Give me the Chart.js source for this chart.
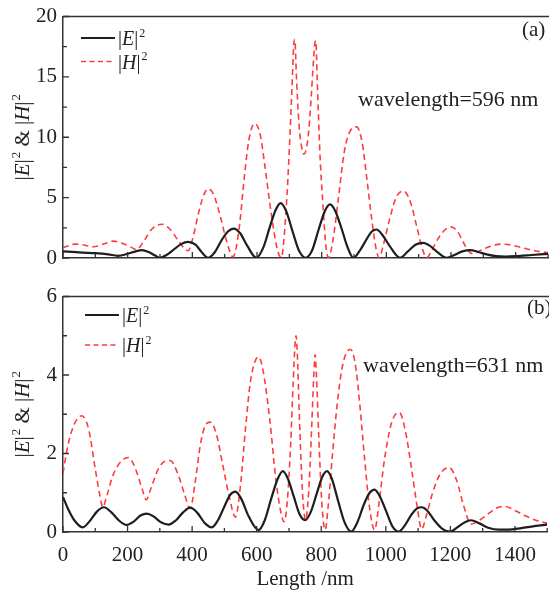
<!DOCTYPE html>
<html>
<head>
<meta charset="utf-8">
<script src="https://cdn.jsdelivr.net/npm/chart.js@4.4.1/dist/chart.umd.min.js"></script>
<style>
  html, body { margin: 0; padding: 0; background: #fff; }
  #wrap { position: relative; width: 549px; height: 591px; overflow: hidden; }
  #chartA { position: absolute; left: 0; top: 0; }
  #chartB { position: absolute; left: 0; top: 280px; }
</style>
</head>
<body>
<div id="wrap">
  <canvas id="chartA" width="549" height="280"></canvas>
  <canvas id="chartB" width="549" height="311"></canvas>
</div>
<script>
const FONT = '"Liberation Serif", "Times New Roman", serif';
const AXIS = '#333';
const TEXT = '#222';

// (a) wavelength = 596 nm
const lenEa = [0,30,60,100,140,170,200,225,244,265,285,300,320,345,365,387,410,430,449,470,490,510,528,548,570,598,620,640,658,673,690,710,730,750,770,790,810,826,842,862,880,898,920,940,955,970,988,1010,1042,1065,1090,1114,1135,1160,1187,1210,1235,1259,1285,1310,1340,1370,1400,1450,1500];
const valEa = [0.55,0.5,0.45,0.4,0.3,0.18,0.35,0.55,0.66,0.5,0.2,0.02,0.25,0.75,1.15,1.34,1.1,0.45,0.02,0.5,1.45,2.2,2.44,2.05,1.0,0.02,0.9,2.6,4.0,4.55,3.9,2.2,0.6,0.02,0.6,2.3,3.9,4.44,3.9,2.4,0.9,0.02,0.7,1.6,2.2,2.36,1.9,1.0,0.02,0.5,1.1,1.26,1.0,0.45,0.02,0.25,0.55,0.66,0.5,0.3,0.15,0.12,0.15,0.25,0.35];
const lenHa = [0,15,35,60,95,130,156,185,210,228,250,275,305,330,355,375,387,400,420,435,449,465,485,505,526,545,560,575,593,610,625,645,662,675,690,700,708,714,717,722,730,738,745,752,760,768,775,779,782,786,794,805,813,821,835,852,870,890,908,925,940,955,968,978,990,1010,1030,1053,1075,1095,1112,1125,1140,1160,1180,1200,1220,1240,1255,1269,1290,1320,1357,1390,1420,1460,1500];
const valHa = [0.85,1.0,1.15,1.1,0.93,1.2,1.4,1.2,0.9,0.7,1.4,2.4,2.8,2.4,1.5,0.8,0.6,1.5,3.8,5.2,5.73,5.3,3.6,1.5,0.1,2.5,6.5,9.8,11.14,10.2,7.5,3.5,0.8,0.02,4,9,14,17.8,18.1,15,11,9.2,8.6,9.0,10.5,13.5,16.5,17.8,18.0,15,9,4,1,0.02,1.5,5,8.8,10.6,10.86,9.6,6.5,3.2,0.8,0.02,1.0,3.2,5.0,5.54,4.6,2.5,0.7,0.02,0.6,1.6,2.3,2.58,2.2,1.2,0.55,0.35,0.6,0.95,1.15,1.05,0.85,0.6,0.44];

// (b) wavelength = 631 nm
const lenEb = [0,15,35,61,85,105,127,150,175,197,220,240,260,280,305,327,350,372,394,415,440,461,480,500,518,534,552,575,606,625,645,665,681,697,715,733,750,767,785,803,818,833,852,872,893,912,932,950,965,982,1000,1020,1040,1060,1080,1097,1111,1128,1150,1175,1200,1222,1245,1264,1290,1320,1350,1380,1420,1460,1500];
const valEb = [0.89,0.6,0.3,0.12,0.3,0.52,0.63,0.5,0.28,0.18,0.27,0.42,0.47,0.4,0.24,0.19,0.3,0.5,0.62,0.5,0.22,0.12,0.3,0.65,0.95,1.03,0.85,0.4,0.05,0.3,0.85,1.35,1.55,1.35,0.9,0.45,0.3,0.5,0.95,1.4,1.55,1.35,0.8,0.25,0.01,0.25,0.7,1.0,1.08,0.9,0.55,0.15,0.01,0.18,0.45,0.6,0.63,0.55,0.3,0.08,0.01,0.12,0.25,0.3,0.22,0.1,0.06,0.06,0.1,0.15,0.19];
const lenHb = [0,15,35,58,80,100,115,123,135,155,180,203,225,245,258,272,295,315,332,355,375,394,410,425,440,456,475,495,515,534,550,565,580,595,606,620,640,660,675,685,695,705,713,719,722,726,732,740,746,751,756,763,771,777,781,785,792,800,806,812,822,835,850,865,880,891,905,920,935,950,965,980,995,1015,1030,1042,1060,1080,1098,1111,1125,1145,1170,1197,1220,1240,1264,1290,1320,1345,1369,1400,1430,1465,1500];
const valHb = [1.5,2.2,2.75,2.96,2.6,1.6,0.9,0.63,0.9,1.45,1.8,1.9,1.6,1.1,0.82,1.1,1.6,1.8,1.82,1.5,1.0,0.6,1.3,2.2,2.7,2.8,2.5,1.7,0.9,0.38,1.2,2.6,3.8,4.35,4.46,4.1,2.9,1.3,0.5,0.26,0.8,2.2,3.8,4.8,5.0,4.5,3.0,1.3,0.55,0.3,0.5,1.3,2.8,4.0,4.52,4.0,2.5,1.0,0.3,0.05,0.7,2.0,3.3,4.2,4.6,4.65,4.3,3.2,1.8,0.6,0.05,0.8,1.8,2.7,3.0,3.04,2.6,1.6,0.6,0.07,0.4,1.0,1.5,1.64,1.3,0.7,0.2,0.3,0.48,0.62,0.65,0.55,0.42,0.3,0.22];

// ticks
const xTicks = [0,200,400,600,800,1000,1200,1400];
const xMinorTicks = [100,300,500,700,900,1100,1300,1500];
const yTicksA = [0,5,10,15,20];
const yMinorA = [2.5,7.5,12.5,17.5];
const yTicksB = [0,2,4,6];
const yMinorB = [1,3,5];

function pts(xs, ys) {
    return xs.map((x, i) => ({ x: x, y: ys[i] }));
}

// pieces of text: 0 normal, 1 italic, 2 superscript
const labelE = [['|',0],['E',1],['|',0],['2',2]];
const labelH = [['|',0],['H',1],['|',0],['2',2]];
const labelY = [['|',0],['E',1],['|',0],['2',2],[' & ',0],['|',0],['H',1],['|',0],['2',2]];

function pieceFont(kind, size) {
    if (kind == 1) return 'italic ' + size + 'px ' + FONT;
    if (kind == 2) return Math.round(size * 0.6) + 'px ' + FONT;
    return size + 'px ' + FONT;
}
function richWidth(ctx, parts, size) {
    let w = 0;
    parts.forEach(p => { ctx.font = pieceFont(p[1], size); w += ctx.measureText(p[0]).width + (p[1] == 2 ? 1 : 0); });
    return w;
}
function drawRich(ctx, x, y, parts, size) {
    ctx.textBaseline = 'alphabetic';
    ctx.textAlign = 'left';
    parts.forEach(p => {
        ctx.font = pieceFont(p[1], size);
        const dy = p[1] == 2 ? -size * 0.42 : 0;
        ctx.fillText(p[0], x + (p[1] == 2 ? 1 : 0), y + dy);
        x += ctx.measureText(p[0]).width + (p[1] == 2 ? 1 : 0);
    });
}

const decorPlugin = {
    id: 'decor',
    afterDraw(chart, args, opts) {
        const ctx = chart.ctx;
        const ca = chart.chartArea;
        const xs = chart.scales.x, ys = chart.scales.y;
        ctx.save();

        // top frame
        ctx.strokeStyle = AXIS;
        ctx.lineWidth = 1.5;
        ctx.beginPath();
        ctx.moveTo(ca.left, ca.top);
        ctx.lineTo(chart.width, ca.top);
        ctx.stroke();

        // inward tick marks
        ctx.lineWidth = 1.3;
        ctx.beginPath();
        xTicks.forEach(v => { const px = xs.getPixelForValue(v); ctx.moveTo(px, ca.bottom); ctx.lineTo(px, ca.bottom - 6); });
        xMinorTicks.forEach(v => { const px = xs.getPixelForValue(v); ctx.moveTo(px, ca.bottom); ctx.lineTo(px, ca.bottom - 4); });
        opts.yMajor.forEach(v => { const py = ys.getPixelForValue(v); ctx.moveTo(ca.left, py); ctx.lineTo(ca.left + 6, py); });
        opts.yMinor.forEach(v => { const py = ys.getPixelForValue(v); ctx.moveTo(ca.left, py); ctx.lineTo(ca.left + 4, py); });
        ctx.stroke();

        ctx.fillStyle = TEXT;

        // y axis title
        ctx.save();
        ctx.translate(22, (ca.top + ca.bottom) / 2);
        ctx.rotate(-Math.PI / 2);
        const tw = richWidth(ctx, labelY, 21);
        drawRich(ctx, -tw / 2, 7, labelY, 21);
        ctx.restore();

        // legend
        const lg = opts.legend;
        ctx.lineWidth = 2;
        ctx.strokeStyle = '#1e1e1e';
        ctx.beginPath();
        ctx.moveTo(lg.x0, lg.yE); ctx.lineTo(lg.x1, lg.yE);
        ctx.stroke();
        ctx.strokeStyle = 'rgb(255,60,60)';
        ctx.lineWidth = 1.6;
        ctx.setLineDash([5, 3.5]);
        ctx.beginPath();
        ctx.moveTo(lg.x0, lg.yH); ctx.lineTo(lg.x1, lg.yH);
        ctx.stroke();
        ctx.setLineDash([]);
        drawRich(ctx, lg.x1 + 3, lg.yE + 7, labelE, 20);
        drawRich(ctx, lg.x1 + 3, lg.yH + 7, labelH, 20);

        // annotations
        ctx.font = '22px ' + FONT;
        ctx.textBaseline = 'middle';
        ctx.textAlign = 'left';
        ctx.fillText(opts.note, opts.noteX, opts.noteY);
        ctx.font = '21px ' + FONT;
        ctx.fillText(opts.tag, opts.tagX, opts.tagY);

        ctx.restore();
    }
};

function makeChart(id, cfg) {
    const tickFont = { family: FONT, size: 21, lineHeight: 1 };
    return new Chart(document.getElementById(id), {
        type: 'line',
        data: {
            datasets: [
                {
                    label: '|E|2',
                    data: pts(cfg.lenE, cfg.valE),
                    borderColor: '#1e1e1e',
                    borderWidth: 2.2,
                    pointRadius: 0,
                    cubicInterpolationMode: 'monotone'
                },
                {
                    label: '|H|2',
                    data: pts(cfg.lenH, cfg.valH),
                    borderColor: 'rgb(255,60,60)',
                    borderWidth: 1.6,
                    borderDash: [6, 4],
                    pointRadius: 0,
                    cubicInterpolationMode: 'monotone'
                }
            ]
        },
        options: {
            responsive: false,
            animation: false,
            events: [],
            layout: { padding: { top: cfg.top, right: 1, left: 0, bottom: 0 } },
            plugins: {
                legend: { display: false },
                tooltip: { enabled: false },
                decor: cfg.decor
            },
            scales: {
                x: {
                    type: 'linear',
                    min: 0,
                    max: 1500,
                    grid: { display: false, drawTicks: false },
                    border: { color: AXIS, width: 1.5 },
                    ticks: {
                        display: cfg.showX, padding: 13, font: tickFont, color: TEXT, maxRotation: 0,
                        callback: v => String(v)
                    },
                    afterBuildTicks: s => { s.ticks = xTicks.map(v => ({ value: v })); },
                    afterFit: s => { s.height = cfg.xHeight; },
                    title: {
                        display: cfg.showX,
                        text: 'Length /nm',
                        font: { family: FONT, size: 21 },
                        color: TEXT,
                        padding: { top: 0, bottom: -1 }
                    }
                },
                y: {
                    min: 0,
                    max: cfg.yMax,
                    grid: { display: false, drawTicks: false },
                    border: { color: AXIS, width: 1.5 },
                    ticks: { padding: 6, font: tickFont, color: TEXT, callback: v => String(v) },
                    afterBuildTicks: s => { s.ticks = cfg.yTicks.map(v => ({ value: v })); },
                    afterFit: s => { s.width = 63; }
                }
            }
        },
        plugins: [decorPlugin]
    });
}

makeChart('chartA', {
    lenE: lenEa, valE: valEa, lenH: lenHa, valH: valHa,
    top: 15, xHeight: 22, showX: false, yMax: 20, yTicks: yTicksA,
    decor: {
        yMajor: yTicksA, yMinor: yMinorA,
        legend: { x0: 81, x1: 115, yE: 38, yH: 61.5 },
        note: 'wavelength=596 nm', noteX: 358, noteY: 100,
        tag: '(a)', tagX: 522, tagY: 30
    }
});

makeChart('chartB', {
    lenE: lenEb, valE: valEb, lenH: lenHb, valH: valHb,
    top: 13, xHeight: 59, showX: true, yMax: 6, yTicks: yTicksB,
    decor: {
        yMajor: yTicksB, yMinor: yMinorB,
        legend: { x0: 85, x1: 119, yE: 35, yH: 65 },
        note: 'wavelength=631 nm', noteX: 363, noteY: 86,
        tag: '(b)', tagX: 527, tagY: 28
    }
});
</script>
</body>
</html>
